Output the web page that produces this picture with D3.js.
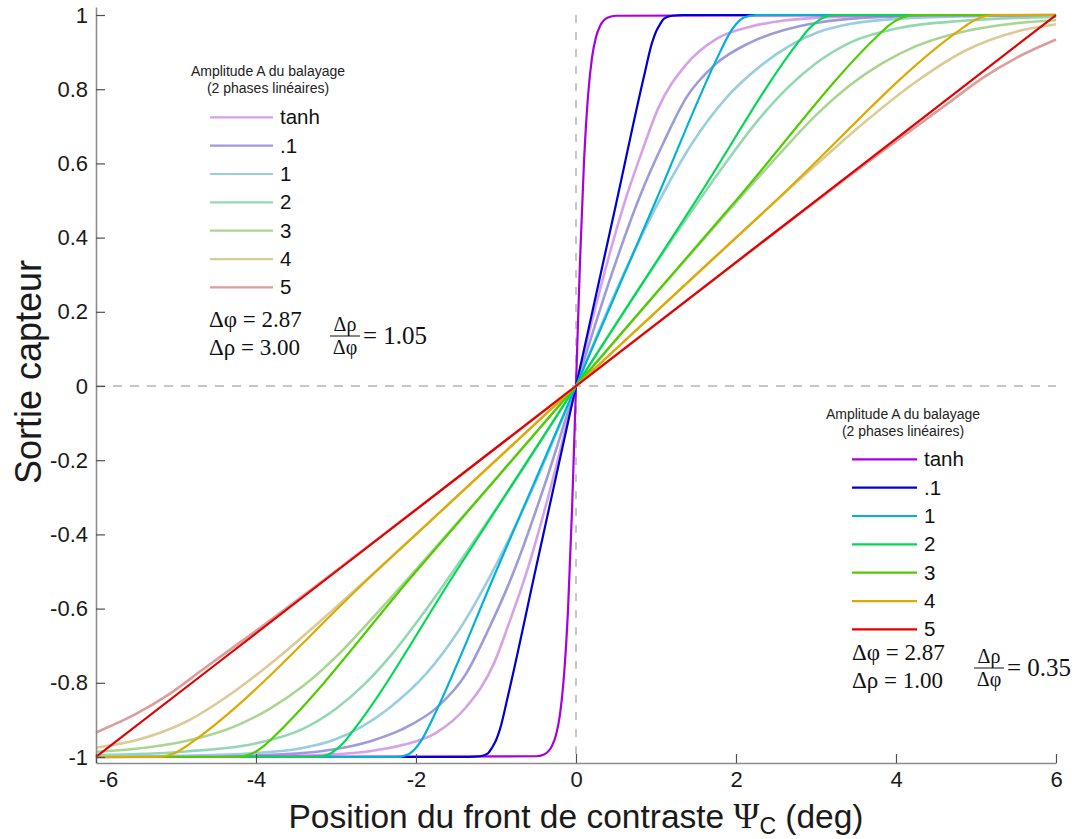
<!DOCTYPE html>
<html>
<head>
<meta charset="utf-8">
<script src="https://cdn.jsdelivr.net/npm/d3@7"></script>
<style>
  html, body { margin: 0; padding: 0; background: #fff; }
  svg { display: block; }
</style>
</head>
<body>
<svg id="chart" width="1078" height="839"></svg>
<script>
// ---------------- DATA ----------------
const xTicks = [-6, -4, -2, 0, 2, 4, 6];
const xTickLabels = ["-6", "-4", "-2", "0", "2", "4", "6"];
const yTicks = [-1, -0.8, -0.6, -0.4, -0.2, 0, 0.2, 0.4, 0.6, 0.8, 1];
const yTickLabels = ["-1", "-0.8", "-0.6", "-0.4", "-0.2", "0", "0.2", "0.4", "0.6", "0.8", "1"];

const seriesNames = ["tanh", ".1", "1", "2", "3", "4", "5"];
const strongColors = ["#a800dc", "#0000d2", "#00b2da", "#00da52", "#50cc00", "#dcaa00", "#e40000"];
const fadedColors  = ["#d6a2e6", "#9c9cda", "#98cede", "#94d8b2", "#a8d690", "#dccb96", "#dc9d9d"];

// Saturated curves (Δρ = 1.00), [x, y]
const strongTanh = [[-6,-1],[-0.5,-0.998],[-0.4,-0.993],[-0.3,-0.97],[-0.25,-0.941],[-0.2,-0.885],[-0.15,-0.781],[-0.1,-0.604],[-0.05,-0.336],[0,0],[0.05,0.336],[0.1,0.604],[0.15,0.781],[0.2,0.885],[0.25,0.941],[0.3,0.97],[0.4,0.993],[0.5,0.998],[6,1]];
const strong01 = [[-6,-1],[-1.35,-1],[-1.2,-0.998],[-1.1,-0.99],[-1.05,-0.975],[-1.0,-0.955],[-0.95,-0.925],[-0.85,-0.835],[-0.5,-0.49],[0,0],[0.5,0.49],[0.85,0.835],[0.95,0.925],[1.0,0.955],[1.05,0.975],[1.1,0.99],[1.2,0.998],[1.35,1],[6,1]];
const strong1 = [[-6,-1],[-2.25,-1],[-2.1,-0.993],[-2.0,-0.975],[-1.9,-0.943],[-1.8,-0.9],[-1,-0.5],[0,0],[1,0.5],[1.8,0.9],[1.9,0.943],[2.0,0.975],[2.1,0.993],[2.25,1],[6,1]];
const strong2 = [[-6,-1],[-3.25,-1],[-3.1,-0.994],[-3.0,-0.98],[-2.9,-0.96],[-2.8,-0.933],[-1.5,-0.5],[0,0],[1.5,0.5],[2.8,0.933],[2.9,0.96],[3.0,0.98],[3.1,0.994],[3.25,1],[6,1]];
const strong3 = [[-6,-1],[-4.25,-1],[-4.1,-0.995],[-4.0,-0.985],[-3.9,-0.97],[-3.8,-0.95],[-2,-0.5],[0,0],[2,0.5],[3.8,0.95],[3.9,0.97],[4.0,0.985],[4.1,0.995],[4.25,1],[6,1]];
const strong4 = [[-6,-1],[-5.25,-1],[-5.1,-0.996],[-5.0,-0.988],[-4.9,-0.975],[-4.8,-0.96],[-2.5,-0.5],[0,0],[2.5,0.5],[4.8,0.96],[4.9,0.975],[5.0,0.988],[5.1,0.996],[5.25,1],[6,1]];
const strong5 = [[-6,-1],[-3,-0.5],[0,0],[3,0.5],[6,1]];

// Smooth curves (Δρ = 3.00), [x, y]
const fadedTanh = [[-6,-1],[-4,-0.999],[-3.04,-0.993],[-2.6,-0.985],[-2.17,-0.968],[-1.75,-0.935],[-1.375,-0.866],[-1.02,-0.745],[-0.83,-0.635],[-0.625,-0.507],[-0.3,-0.26],[0,0],[0.3,0.26],[0.625,0.507],[0.83,0.635],[1.02,0.745],[1.375,0.866],[1.75,0.935],[2.17,0.968],[2.6,0.985],[3.04,0.993],[4,0.999],[6,1]];
const faded01 = [[-6,-1],[-4.5,-0.998],[-3.5,-0.991],[-3.04,-0.98],[-2.58,-0.958],[-2.17,-0.925],[-1.73,-0.865],[-1.375,-0.776],[-1.1,-0.659],[-0.79,-0.507],[-0.4,-0.272],[0,0],[0.4,0.272],[0.79,0.507],[1.1,0.659],[1.375,0.776],[1.73,0.865],[2.17,0.925],[2.58,0.958],[3.04,0.98],[3.5,0.991],[4.5,0.998],[6,1]];
const faded1 = [[-6,-1],[-5,-0.997],[-4.04,-0.99],[-3.42,-0.976],[-3.04,-0.955],[-2.33,-0.867],[-1.875,-0.776],[-1.46,-0.657],[-1.06,-0.507],[-0.5,-0.256],[0,0],[0.5,0.256],[1.06,0.507],[1.46,0.657],[1.875,0.776],[2.33,0.867],[3.04,0.955],[3.42,0.976],[4.04,0.99],[5,0.997],[6,1]];
const faded2 = [[-6,-0.995],[-4.875,-0.985],[-4.04,-0.965],[-3.42,-0.925],[-3.0,-0.87],[-2.65,-0.805],[-2.29,-0.72],[-1.9,-0.61],[-1.56,-0.507],[-0.8,-0.267],[0,0],[0.8,0.267],[1.56,0.507],[1.9,0.61],[2.29,0.72],[2.65,0.805],[3.0,0.87],[3.42,0.925],[4.04,0.965],[4.875,0.985],[6,0.995]];
const faded3 = [[-6,-0.986],[-5.5,-0.978],[-4.875,-0.957],[-4.25,-0.916],[-3.83,-0.87],[-3.42,-0.81],[-3.0,-0.73],[-2.5,-0.615],[-2,-0.495],[-1,-0.25],[0,0],[1,0.25],[2,0.495],[2.5,0.615],[3.0,0.73],[3.42,0.81],[3.83,0.87],[4.25,0.916],[4.875,0.957],[5.5,0.978],[6,0.986]];
const faded4 = [[-6,-0.975],[-5.5,-0.955],[-4.875,-0.905],[-4.25,-0.82],[-3.625,-0.714],[-3.0,-0.596],[-1.5,-0.3],[0,0],[1.5,0.3],[3.0,0.596],[3.625,0.714],[4.25,0.82],[4.875,0.905],[5.5,0.955],[6,0.975]];
const faded5 = [[-6,-0.934],[-5.5,-0.884],[-5.08,-0.83],[-4.67,-0.765],[-4,-0.66],[-2,-0.333],[0,0],[2,0.333],[4,0.66],[4.67,0.765],[5.08,0.83],[5.5,0.884],[6,0.934]];

const strongSeries = [strongTanh, strong01, strong1, strong2, strong3, strong4, strong5];
const fadedSeries  = [fadedTanh, faded01, faded1, faded2, faded3, faded4, faded5];

const legendTitle1 = "Amplitude A du balayage";
const legendTitle2 = "(2 phases linéaires)";
const leftNotes  = ["Δφ = 2.87", "Δρ = 3.00"];
const rightNotes = ["Δφ = 2.87", "Δρ = 1.00"];
const leftRatio = "= 1.05";
const rightRatio = "= 0.35";

// ---------------- DRAWING ----------------
const svg = d3.select("#chart");
const SANS = "'Liberation Sans', Arial, Helvetica, sans-serif";
const SERIF = "'Liberation Serif', 'Times New Roman', serif";

const x = d3.scaleLinear().domain([-6, 6]).range([96, 1056]);
const y = d3.scaleLinear().domain([-1.0162, 1.0216]).range([763, 7]);

// dashed zero lines
svg.append("line")
  .attr("x1", x(0)).attr("x2", x(0)).attr("y1", y(1)).attr("y2", y(-1))
  .attr("stroke", "#b4b4b4").attr("stroke-width", 1.5).attr("stroke-dasharray", "8,9");
svg.append("line")
  .attr("x1", x(-6)).attr("x2", x(6)).attr("y1", y(0)).attr("y2", y(0))
  .attr("stroke", "#b4b4b4").attr("stroke-width", 1.5).attr("stroke-dasharray", "9,8");

const lineS = d3.line().x(d => x(d[0])).y(d => y(d[1])).curve(d3.curveMonotoneX);
const lineF = d3.line().x(d => x(d[0])).y(d => y(d[1])).curve(d3.curveMonotoneX);

// faded curves first
const gF = svg.append("g");
fadedSeries.forEach((s, i) => {
  gF.append("path").datum(s).attr("d", lineF)
    .attr("fill", "none").attr("stroke", fadedColors[i]).attr("stroke-width", 2.6)
    .attr("stroke-linejoin", "round");
});
const gS = svg.append("g");
strongSeries.forEach((s, i) => {
  gS.append("path").datum(s).attr("d", lineS)
    .attr("fill", "none").attr("stroke", strongColors[i]).attr("stroke-width", 2.2)
    .attr("stroke-linejoin", "round");
});

// axes
const yAxis = d3.axisLeft(y).tickValues(yTicks).tickFormat((d, i) => yTickLabels[i])
  .tickSizeInner(-9).tickSizeOuter(0).tickPadding(8);
const xAxis = d3.axisBottom(x).tickValues(xTicks).tickFormat((d, i) => xTickLabels[i])
  .tickSizeInner(-9).tickSizeOuter(0).tickPadding(8);

const gy = svg.append("g").attr("transform", `translate(${x(-6)},0)`).call(yAxis);
const gx = svg.append("g").attr("transform", `translate(0,${y.range()[0]})`).call(xAxis);
[gx, gy].forEach(g => {
  g.select(".domain").attr("stroke", "#8c8c8c").attr("stroke-width", 1.6);
  g.selectAll(".tick line").attr("stroke", "#505050").attr("stroke-width", 1.2);
  g.selectAll(".tick text").attr("font-family", SANS).attr("font-size", 22).attr("fill", "#1a1a1a");
});
// first x label sits slightly to the right of the axis corner
gx.selectAll(".tick text").filter(d => d === -6).attr("dx", 12);

// axis titles
svg.append("text")
  .attr("transform", "translate(41,372) rotate(-90)")
  .attr("text-anchor", "middle").attr("font-family", SANS).attr("font-size", 36).attr("fill", "#1a1a1a")
  .text("Sortie capteur");

const xt = svg.append("text").attr("x", 576).attr("y", 828)
  .attr("text-anchor", "middle").attr("font-family", SANS).attr("font-size", 33.5).attr("fill", "#1a1a1a");
xt.append("tspan").text("Position du front de contraste ");
xt.append("tspan").attr("font-family", SERIF).attr("font-size", 35).text("Ψ");
xt.append("tspan").attr("font-size", 23).attr("dy", 6).text("C");
xt.append("tspan").attr("dy", -6).text(" (deg)");

// legends
function legend(cx, titleY, lineX1, lineX2, firstY, colors, notes, ratio, noteX, noteY, fracX, fracY) {
  const g = svg.append("g");
  g.append("text").attr("x", cx).attr("y", titleY).attr("text-anchor", "middle")
    .attr("font-family", SANS).attr("font-size", 14).attr("fill", "#222").text(legendTitle1);
  g.append("text").attr("x", cx).attr("y", titleY + 17).attr("text-anchor", "middle")
    .attr("font-family", SANS).attr("font-size", 14).attr("fill", "#222").text(legendTitle2);
  const step = 28.35;
  seriesNames.forEach((n, i) => {
    const yy = firstY + i * step;
    g.append("line").attr("x1", lineX1).attr("x2", lineX2).attr("y1", yy).attr("y2", yy)
      .attr("stroke", colors[i]).attr("stroke-width", 2.2);
    g.append("text").attr("x", lineX2 + 7).attr("y", yy + 7)
      .attr("font-family", SANS).attr("font-size", 20.5).attr("fill", "#111").text(n);
  });
  notes.forEach((t, i) => {
    g.append("text").attr("x", noteX).attr("y", noteY + i * 28)
      .attr("font-family", SERIF).attr("font-size", 23).attr("fill", "#111").text(t);
  });
  // fraction Δρ / Δφ
  g.append("text").attr("x", fracX).attr("y", fracY - 5).attr("text-anchor", "middle")
    .attr("font-family", SERIF).attr("font-size", 20).attr("fill", "#111").text("Δρ");
  g.append("line").attr("x1", fracX - 15).attr("x2", fracX + 15).attr("y1", fracY).attr("y2", fracY)
    .attr("stroke", "#111").attr("stroke-width", 1);
  g.append("text").attr("x", fracX).attr("y", fracY + 18).attr("text-anchor", "middle")
    .attr("font-family", SERIF).attr("font-size", 20).attr("fill", "#111").text("Δφ");
  g.append("text").attr("x", fracX + 18).attr("y", fracY + 8)
    .attr("font-family", SERIF).attr("font-size", 25).attr("fill", "#111").text(ratio);
}

legend(268, 76, 210, 273, 117.3, fadedColors, leftNotes, leftRatio, 209, 327, 345, 336);
legend(903, 419, 852, 917, 459.3, strongColors, rightNotes, rightRatio, 852, 660, 989, 668);
</script>
</body>
</html>
